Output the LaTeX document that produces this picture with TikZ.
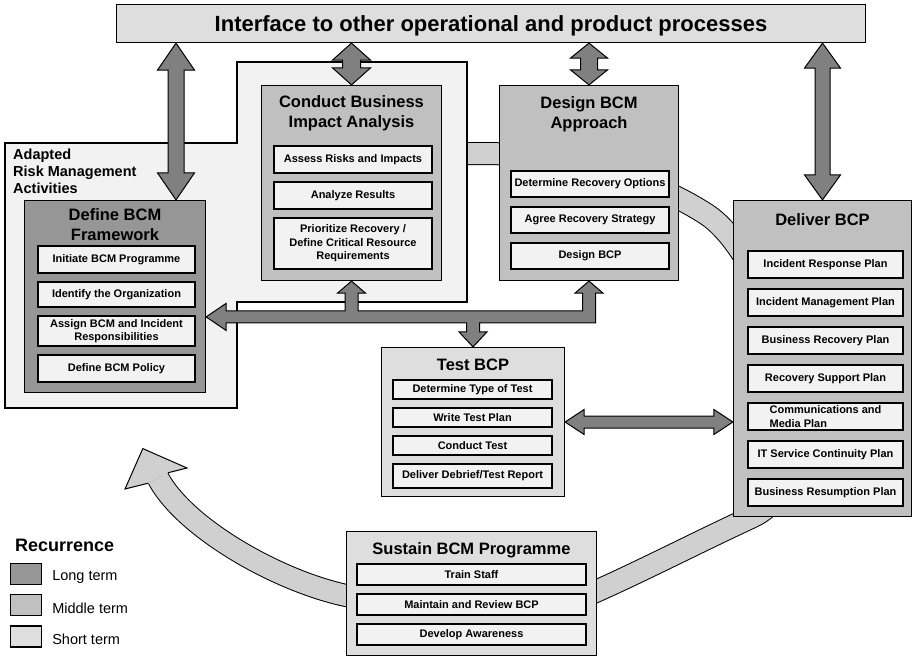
\documentclass[tikz,border=0pt]{standalone}
\usepackage{fontspec}
\setmainfont{Liberation Sans}
\usetikzlibrary{calc,positioning}
\definecolor{longColor}{RGB}{150,150,150}
\definecolor{middleColor}{RGB}{192,192,192}
\definecolor{shortColor}{RGB}{222,222,222}
\definecolor{taskColor}{RGB}{242,242,242}
\definecolor{arrowColor}{RGB}{128,128,128}
\definecolor{cycleColor}{RGB}{208,208,208}
\tikzset{phase/.style={draw, line width=1.2pt, inner sep=0pt}}
\tikzset{phasetitle/.style={align=center, inner sep=0pt, font=\fontsize{16.5}{20}\selectfont\bfseries}}
\tikzset{task/.style={draw, line width=2pt, fill=taskColor, align=center, inner sep=2pt, minimum height=27pt, font=\fontsize{11}{13.5}\selectfont\bfseries}}
\tikzset{blockarrow/.style={draw, line width=1pt, fill=arrowColor}}
\tikzset{cycleband/.style={draw=black, line width=1pt, double=cycleColor, double distance=21pt}}
\tikzset{legendbox/.style={draw, line width=1.2pt, minimum width=31pt, minimum height=21pt, inner sep=0pt}}
\tikzset{legendtext/.style={inner sep=0pt, font=\fontsize{14.5}{17}\selectfont}}

% vertical double block arrow: top, bottom, shaft half, head half, head length
\newcommand{\vdarrow}[5]{%
  \draw[blockarrow] let \p1=(#1), \p2=(#2) in
    (\x2,\y1) -- (\x2+#4,\y1-#5) -- (\x2+#3,\y1-#5) -- (\x2+#3,\y2+#5)
    -- (\x2+#4,\y2+#5) -- (\x2,\y2) -- (\x2-#4,\y2+#5) -- (\x2-#3,\y2+#5)
    -- (\x2-#3,\y1-#5) -- (\x2-#4,\y1-#5) -- cycle;}
% horizontal double block arrow: left, right, shaft half, head half, head length
\newcommand{\hdarrow}[5]{%
  \draw[blockarrow] let \p1=(#1), \p2=(#2) in
    (\x1,\y1) -- (\x1+#5,\y1+#4) -- (\x1+#5,\y1+#3) -- (\x2-#5,\y1+#3)
    -- (\x2-#5,\y1+#4) -- (\x2,\y1) -- (\x2-#5,\y1-#4) -- (\x2-#5,\y1-#3)
    -- (\x1+#5,\y1-#3) -- (\x1+#5,\y1-#4) -- cycle;}

\begin{document}
\begin{tikzpicture}[x=1pt, y=-1pt]
	\useasboundingbox (0,0) rectangle (917,658);

	% Cycle
	\draw[cycleband] (400,153.5) -- (483,153.5) .. controls (563,153.5) and (647,176) .. (706,214)
		.. controls (773,257) and (842,475) .. (752,517) .. controls (698,542) and (640,572) .. (590,594)
		.. controls (540,616) and (420,608) .. (360,598) .. controls (290,588) and (186,531) .. (158,478);
	\fill[cycleColor] (168.2,472.7) -- (187,468) -- (142.8,448.6) -- (125,489) -- (147.8,483.3) -- cycle;
	\draw[line width=1pt] (168.2,472.7) -- (187,468) -- (142.8,448.6) -- (125,489) -- (147.8,483.3);

	% Adapted risk management area
	\draw[line width=1.6pt, fill=taskColor] (5,143) -| (237,62) -| (467,302) -| (237,408) -- (5,408) -- cycle;
	\node[anchor=north west, align=left, inner sep=0pt, font=\fontsize{14.5}{17}\selectfont\bfseries] (adapted) at (13,148.5) {Adapted\\Risk Management\\Activities};

	% Nodes
	\node[phase, fill=shortColor, minimum width=749, minimum height=38, text depth=0pt, font=\fontsize{22}{26}\selectfont\bfseries] (interface) at (491,23.5) {Interface to other operational and product processes};

	\node[phase, fill=longColor, minimum width=181, minimum height=192] (define) at (115,296.5) {};
	\node[phasetitle, below=8pt of define.north] (defineTitle) {Define BCM\\Framework};
	\begin{scope}[task/.append style={minimum width=157}]
		\node[task] (initiate) at (116.5,259.5) {Initiate BCM Programme};
		\node[task, below=7pt of initiate, minimum height=25] (identify) {Identify the Organization};
		\node[task, below=7pt of identify, minimum height=30] (assign) {Assign BCM and Incident\\Responsibilities};
		\node[task, below=7pt of assign] (policy) {Define BCM Policy};
	\end{scope}

	\node[phase, fill=middleColor, minimum width=180, minimum height=195] (bia) at (351.5,183) {};
	\node[phasetitle, below=10pt of bia.north] (biaTitle) {Conduct Business\\Impact Analysis};
	\begin{scope}[task/.append style={minimum width=158}]
		\node[task] (assess) at (353,159.5) {Assess Risks and Impacts};
		\node[task, below=7pt of assess] (analyze) {Analyze Results};
		\node[task, below=7pt of analyze, minimum height=51] (prioritize) {Prioritize Recovery /\\Define Critical Resource\\Requirements};
	\end{scope}

	\node[phase, fill=middleColor, minimum width=179, minimum height=195] (design) at (589,183) {};
	\node[phasetitle, below=11pt of design.north] (designTitle) {Design BCM\\Approach};
	\begin{scope}[task/.append style={minimum width=158, minimum height=26}]
		\node[task] (options) at (590,184) {Determine Recovery Options};
		\node[task, below=8pt of options] (strategy) {Agree Recovery Strategy};
		\node[task, below=8pt of strategy] (designBCP) {Design BCP};
	\end{scope}

	\node[phase, fill=middleColor, minimum width=178, minimum height=316] (deliver) at (822.5,358.5) {};
	\node[phasetitle, below=13pt of deliver.north] (deliverTitle) {Deliver BCP};
	\begin{scope}[task/.append style={minimum width=155}]
		\node[task] (response) at (825.5,264.5) {Incident Response Plan};
		\node[task, below=9pt of response] (management) {Incident Management Plan};
		\node[task, below=9pt of management] (recovery) {Business Recovery Plan};
		\node[task, below=9pt of recovery] (support) {Recovery Support Plan};
		\node[task, below=9pt of support, align=left] (media) {Communications and\\Media Plan};
		\node[task, below=9pt of media] (itservice) {IT Service Continuity Plan};
		\node[task, below=9pt of itservice] (resumption) {Business Resumption Plan};
	\end{scope}

	\node[phase, fill=shortColor, minimum width=183, minimum height=149] (test) at (473,422) {};
	\node[phasetitle, below=12pt of test.north] (testTitle) {Test BCP};
	\begin{scope}[task/.append style={minimum width=159, minimum height=19}]
		\node[task] (testType) at (472.5,389.5) {Determine Type of Test};
		\node[task, below=7pt of testType] (testPlan) {Write Test Plan};
		\node[task, below=7pt of testPlan] (conduct) {Conduct Test};
		\node[task, below=7pt of conduct, minimum height=24] (debrief) {Deliver Debrief/Test Report};
	\end{scope}

	\node[phase, fill=shortColor, minimum width=250, minimum height=124] (sustain) at (471.5,593.5) {};
	\node[phasetitle, below=11pt of sustain.north] (sustainTitle) {Sustain BCM Programme};
	\begin{scope}[task/.append style={minimum width=229, minimum height=21}]
		\node[task] (train) at (471.5,574.5) {Train Staff};
		\node[task, below=7pt of train] (maintain) {Maintain and Review BCP};
		\node[task, below=7pt of maintain] (awareness) {Develop Awareness};
	\end{scope}

	% Legend
	\node[anchor=base west, inner sep=0pt, font=\fontsize{18}{21}\selectfont\bfseries] (recurrence) at (15,551) {Recurrence};
	\node[legendbox, fill=longColor] (longterm) at (26,574) {};
	\node[legendbox, fill=middleColor, below=9pt of longterm] (middleterm) {};
	\node[legendbox, fill=shortColor, below=9pt of middleterm] (shortterm) {};
	\node[legendtext, right=10pt of longterm, yshift=-3pt] {Long term};
	\node[legendtext, right=10pt of middleterm, yshift=-3pt] {Middle term};
	\node[legendtext, right=10pt of shortterm, yshift=-3pt] {Short term};

	% Connectors
	\vdarrow{interface.south}{$(define.north)+(61,0)$}{8pt}{18.5pt}{27pt}
	\vdarrow{interface.south}{bia.north}{9pt}{19pt}{17pt}
	\vdarrow{interface.south}{design.north}{8.5pt}{18.5pt}{15pt}
	\vdarrow{interface.south}{deliver.north}{7.5pt}{18pt}{25pt}
	\hdarrow{test.east}{deliver.west}{6pt}{12.5pt}{19pt}

	\draw[blockarrow] let \p1=(bia.south), \p2=(design.south), \p3=(test.north), \p4=(define.east), \p5=($(test.north)+(0,-30)$) in
		(\x4,\y5) -- (\x4+20pt,\y5+13.5pt) -- (\x4+20pt,\y5+6pt)
		-- (\x1-6.5pt,\y5+6pt) -- (\x1-6.5pt,\y1-12pt) -- (\x1-14pt,\y1-12pt) -- (\x1,\y1)
		-- (\x1+14pt,\y1-12pt) -- (\x1+6.5pt,\y1-12pt) -- (\x1+6.5pt,\y5+6pt)
		-- (\x2-6.5pt,\y5+6pt) -- (\x2-6.5pt,\y2-12pt) -- (\x2-14pt,\y2-12pt) -- (\x2,\y2)
		-- (\x2+14pt,\y2-12pt) -- (\x2+6.5pt,\y2-12pt) -- (\x2+6.5pt,\y5-6pt)
		-- (\x3+6.5pt,\y5-6pt) -- (\x3+6.5pt,\y3+15pt) -- (\x3+14pt,\y3+15pt) -- (\x3,\y3)
		-- (\x3-14pt,\y3+15pt) -- (\x3-6.5pt,\y3+15pt) -- (\x3-6.5pt,\y5-6pt)
		-- (\x4+20pt,\y5-6pt) -- (\x4+20pt,\y5-13.5pt) -- cycle;

\end{tikzpicture}
\end{document}
